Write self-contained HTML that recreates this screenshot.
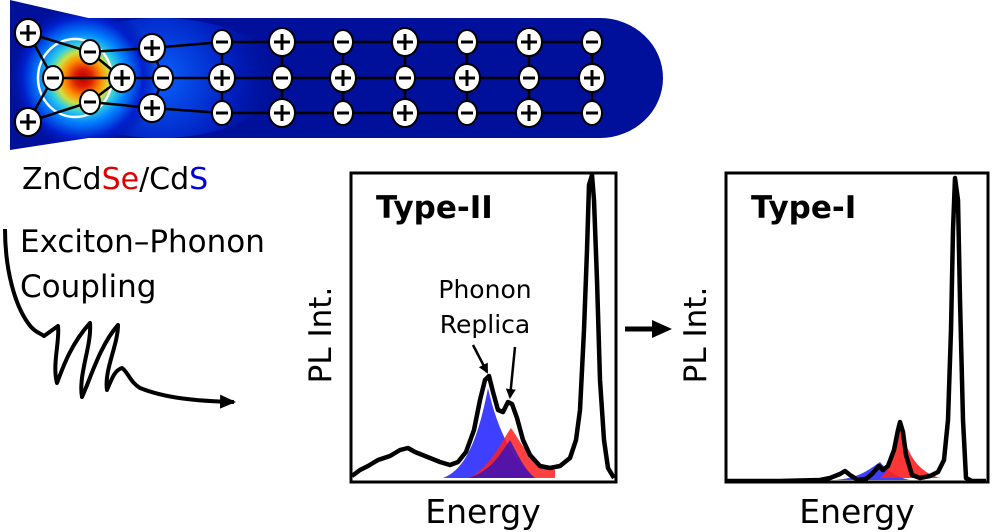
<!DOCTYPE html>
<html><head><meta charset="utf-8"><style>html,body{margin:0;padding:0;background:#fff}svg{display:block}text{font-family:"DejaVu Sans","Liberation Sans",sans-serif}</style></head>
<body>
<svg width="992" height="532" viewBox="0 0 992 532" xmlns="http://www.w3.org/2000/svg">
<defs>
<radialGradient id="g" cx="83" cy="78" r="75" gradientUnits="userSpaceOnUse">
<stop offset="0" stop-color="#b00000"/>
<stop offset="0.12" stop-color="#e02000"/>
<stop offset="0.25" stop-color="#ff9000"/>
<stop offset="0.35" stop-color="#d0e040"/>
<stop offset="0.45" stop-color="#30d0e0"/>
<stop offset="0.6" stop-color="#0080ff"/>
<stop offset="0.8" stop-color="#0020d0"/>
<stop offset="1" stop-color="#00109a" stop-opacity="0"/>
</radialGradient>
<radialGradient id="g2" cx="160" cy="78" r="120" gradientUnits="userSpaceOnUse">
<stop offset="0" stop-color="#0a60ff"/>
<stop offset="0.6" stop-color="#0020c0"/>
<stop offset="1" stop-color="#00109a" stop-opacity="0"/>
</radialGradient>
<clipPath id="rodclip"><path d="M10,0 L88,18 L600,18 A63,60 0 0 1 600,138 L88,138 L10,150 Z"/></clipPath>
<marker id="ah" markerWidth="10" markerHeight="10" refX="8" refY="5" orient="auto" markerUnits="userSpaceOnUse"><path d="M0,0 L10,5 L0,10 z" fill="#000"/></marker>
<marker id="ah2" markerWidth="16" markerHeight="14" refX="14" refY="7" orient="auto" markerUnits="userSpaceOnUse"><path d="M0,0 L16,7 L0,14 z" fill="#000"/></marker>
</defs>
<!-- rod -->
<path d="M10,0 L88,18 L600,18 A63,60 0 0 1 600,138 L88,138 L10,150 Z" fill="#00109a"/>
<g clip-path="url(#rodclip)">
<ellipse cx="160" cy="78" rx="120" ry="60" fill="url(#g2)"/>
<circle cx="83" cy="78" r="75" fill="url(#g)"/>
</g>
<ellipse cx="75" cy="78" rx="37" ry="39" fill="none" stroke="#fff" stroke-width="2.5"/>
<g stroke="#000" stroke-width="2.5" fill="none">
<path d="M28,33 L90,52 L122,78 L90,102 L28,122 L53,78 Z M53,78 L122,78 L163,78 L592,78 M90,52 L152,48 L222,42 L592,42 M90,102 L152,108 L222,113 L592,113 M152,48 L163,78 L152,108"/>
<path d="M222,42V113M282,42V113M343,42V113M405,42V113M467,42V113M529,42V113M592,42V113"/>
</g>
<g stroke="#000" stroke-width="2">
<g fill="#fff">
<ellipse cx="28" cy="33" rx="13" ry="14"/><ellipse cx="28" cy="122" rx="13" ry="14"/><ellipse cx="122" cy="78" rx="13" ry="14"/>
<ellipse cx="152" cy="48" rx="13" ry="14"/><ellipse cx="152" cy="108" rx="13" ry="14"/>
<ellipse cx="53" cy="78" rx="10" ry="12"/><ellipse cx="90" cy="52" rx="10" ry="12"/><ellipse cx="90" cy="102" rx="10" ry="12"/><ellipse cx="163" cy="78" rx="10" ry="12"/>
<ellipse cx="282" cy="42" rx="13" ry="14"/><ellipse cx="405" cy="42" rx="13" ry="14"/><ellipse cx="529" cy="42" rx="13" ry="14"/>
<ellipse cx="282" cy="113" rx="13" ry="14"/><ellipse cx="405" cy="113" rx="13" ry="14"/><ellipse cx="529" cy="113" rx="13" ry="14"/>
<ellipse cx="222" cy="78" rx="13" ry="14"/><ellipse cx="343" cy="78" rx="13" ry="14"/><ellipse cx="467" cy="78" rx="13" ry="14"/><ellipse cx="592" cy="78" rx="13" ry="14"/>
<ellipse cx="222" cy="42" rx="10" ry="12"/><ellipse cx="343" cy="42" rx="10" ry="12"/><ellipse cx="467" cy="42" rx="10" ry="12"/><ellipse cx="592" cy="42" rx="10" ry="12"/>
<ellipse cx="222" cy="113" rx="10" ry="12"/><ellipse cx="343" cy="113" rx="10" ry="12"/><ellipse cx="467" cy="113" rx="10" ry="12"/><ellipse cx="592" cy="113" rx="10" ry="12"/>
<ellipse cx="282" cy="78" rx="10" ry="12"/><ellipse cx="405" cy="78" rx="10" ry="12"/><ellipse cx="529" cy="78" rx="10" ry="12"/>
</g>
<g stroke-width="3" fill="none">
<path d="M20,33h16M28,25v16 M20,122h16M28,114v16 M114,78h16M122,70v16 M144,48h16M152,40v16 M144,108h16M152,100v16
M274,42h16M282,34v16 M397,42h16M405,34v16 M521,42h16M529,34v16
M274,113h16M282,105v16 M397,113h16M405,105v16 M521,113h16M529,105v16
M214,78h16M222,70v16 M335,78h16M343,70v16 M459,78h16M467,70v16 M584,78h16M592,70v16"/>
<path d="M47,78h12M84,52h12M84,102h12M157,78h12
M216,42h12M337,42h12M461,42h12M586,42h12
M216,113h12M337,113h12M461,113h12M586,113h12
M276,78h12M399,78h12M523,78h12"/>
</g>
</g>
<!-- left text -->
<text x="22" y="189" font-size="30">ZnCd<tspan fill="#e00000">Se</tspan>/Cd<tspan fill="#0000e0">S</tspan></text>
<text x="20" y="252" font-size="31">Exciton–Phonon</text>
<text x="20" y="297" font-size="31">Coupling</text>
<path d="M5,229 C5,270 15,305 28,323 C34,332 40,333 44,336 L58,326 C60,340 52,365 57,383 C62,370 70,345 90,323 C92,345 78,375 82,397 C90,380 100,345 118,325 C118,345 104,370 107,390 C112,378 115,370 122,368 C128,372 130,382 140,388 C165,398 195,401 234,402" fill="none" stroke="#000" stroke-width="4" stroke-linejoin="round" marker-end="url(#ah2)"/>
<!-- Type-II plot -->
<text transform="translate(331,335) rotate(-90)" font-size="31" text-anchor="middle">PL Int.</text>
<path d="M443,478 C465,470 478,440 488,388 C495,420 510,460 535,478 Z" fill="#2a2aff" opacity="0.9"/>
<path d="M468,478 C490,470 505,435 511,428 C520,440 530,465 555,470 L555,478 Z" fill="#ff2020" opacity="0.85"/>
<path d="M468,478 C490,472 500,455 510,440 C518,455 525,470 535,478 Z" fill="#3010c0" opacity="0.8"/>
<polyline points="352,476 360,470 368,466 378,460 390,456 400,450 408,448 415,452 425,456 440,462 450,465 458,462 466,452 474,430 480,400 485,380 489,376 493,392 498,410 503,412 508,402 512,404 517,418 523,440 530,455 540,466 550,468 560,466 570,458 576,440 580,410 584,330 587,250 589,185 592,175 594,200 597,280 600,380 604,440 608,468 614,478" fill="none" stroke="#000" stroke-width="4.5" stroke-linejoin="round"/>
<rect x="351" y="173" width="265" height="309" fill="none" stroke="#000" stroke-width="3"/>
<text x="376" y="218" font-size="31" font-weight="bold">Type-II</text>
<text x="485" y="298" font-size="25" text-anchor="middle">Phonon</text>
<text x="485" y="333" font-size="25" text-anchor="middle">Replica</text>
<line x1="473" y1="345" x2="487" y2="372" stroke="#000" stroke-width="2.5" marker-end="url(#ah)"/>
<line x1="515" y1="347" x2="510" y2="397" stroke="#000" stroke-width="2.5" marker-end="url(#ah)"/>
<text x="483" y="523" font-size="33" text-anchor="middle">Energy</text>
<!-- middle arrow -->
<line x1="625" y1="329" x2="660" y2="329" stroke="#000" stroke-width="5"/>
<path d="M652,320 L672,329 L652,338 Z" fill="#000"/>
<!-- Type-I plot -->
<text transform="translate(706,335) rotate(-90)" font-size="31" text-anchor="middle">PL Int.</text>
<path d="M835,480 C860,478 868,470 880,462 C888,472 900,478 910,480 Z" fill="#2a2aff" opacity="0.9"/>
<path d="M880,478 C892,470 896,440 900,422 C905,445 912,470 940,478 Z" fill="#ff2020" opacity="0.9"/>
<polyline points="727,481 780,481 820,480 830,478 840,474 845,471 850,475 858,480 866,479 872,474 879,466 883,470 888,466 894,450 898,430 900,422 903,432 906,455 912,475 920,478 930,476 938,472 944,460 948,420 951,330 953,230 955,178 958,200 960,300 963,420 966,478 972,481 986,481" fill="none" stroke="#000" stroke-width="4.5" stroke-linejoin="round"/>
<rect x="726" y="173" width="262" height="309" fill="none" stroke="#000" stroke-width="3"/>
<text x="751" y="218" font-size="31" font-weight="bold">Type-I</text>
<text x="857" y="523" font-size="33" text-anchor="middle">Energy</text>
</svg>
</body></html>
